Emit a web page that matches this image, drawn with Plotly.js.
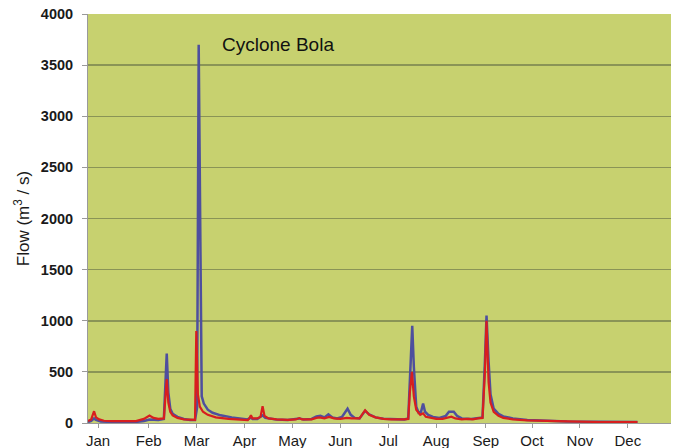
<!DOCTYPE html>
<html>
<head>
<meta charset="utf-8">
<script src="https://cdn.plot.ly/plotly-3.0.1.min.js"></script>
<style>html,body{margin:0;padding:0;background:#fff;}#chart{width:683px;height:448px;}</style>
</head>
<body>
<div id="chart"></div>
<script>
// Day of year (1 Jan = 0) and flow (m3/s)
const blueDays = [0,2,3.8,5,8,15,30,35,38.5,41,44,47.5,48.5,49.3,50.3,51.5,53,56,60,64,67,68.3,69.3,70.5,71.2,72.5,75,78,83,90,96,100,102,103,106,109.3,111,118,125,132.3,135,140,143,145.5,148,150.5,153,156,159,162.5,164.5,167,170,173.5,176,180,185,190,198,200.5,201.8,203,204,205.5,207,208.5,209.8,211,213,216,220,224,226,229,231,234,240,244,247,248.5,249.5,250.8,252,254,257,260,266,275,285,300,320,344];
const blueFlow = [10,20,45,30,15,10,10,20,35,30,30,40,400,680,300,140,90,60,40,30,30,150,3700,900,260,190,130,100,75,55,40,35,55,40,40,75,50,35,30,45,35,40,65,70,55,85,55,45,60,140,80,50,45,120,85,55,42,38,35,45,600,950,550,160,100,110,190,110,80,60,50,70,110,110,70,45,40,45,55,600,1050,600,280,140,90,65,45,30,22,15,12,10];

const redDays = [0,2,3.8,5,7,10,15,22,30,35,38.5,41,44,47.5,48.5,49.3,50.3,51.5,53,56,60,64,67,67.8,68.8,70,72,75,80,88,95,100,101,102,103,106,108,109.3,110.5,113,118,125,130,132.3,134,140,143,145,148,151,154,158,162,165,170,173.5,176,180,185,190,198,200.5,201.5,202.8,204,205.5,208,209.8,211.5,214,218,222,225,227.5,230,234,238,241,244,247,248.5,249.5,250.8,252,254,257,260,266,275,285,300,320,344];
const redFlow = [20,35,115,55,35,22,18,15,18,40,72,50,40,45,250,430,200,110,75,50,35,28,30,900,280,160,110,80,55,40,30,28,45,75,45,45,60,165,70,45,35,30,35,48,35,35,50,55,45,60,45,40,50,45,45,125,80,55,40,35,35,40,300,500,260,130,80,95,60,50,40,40,55,62,45,35,40,35,45,50,500,1000,400,200,110,70,50,35,25,20,15,10,8];

const monthLabels = ['Jan','Feb','Mar','Apr','May','Jun','Jul','Aug','Sep','Oct','Nov','Dec'];
const monthTickDays = [6.3,38,68,98,128,158,188,218,249,278,308,338];
const yTicks = [0,500,1000,1500,2000,2500,3000,3500,4000];

const font = 'Arial, "Liberation Sans", sans-serif';

const data = [
  {x: blueDays, y: blueFlow, type: 'scatter', mode: 'lines',
   line: {color: '#4E4F9E', width: 2.5}, hoverinfo: 'skip', showlegend: false},
  {x: redDays, y: redFlow, type: 'scatter', mode: 'lines',
   line: {color: '#D81E1E', width: 2.2}, hoverinfo: 'skip', showlegend: false}
];

const layout = {
  width: 683, height: 448,
  margin: {l: 88, r: 12, t: 14, b: 25},
  paper_bgcolor: '#FFFFFF',
  plot_bgcolor: '#C7D16F',
  showlegend: false,
  xaxis: {
    range: [0, 365], fixedrange: true,
    tickvals: monthTickDays, ticktext: monthLabels,
    ticks: 'outside', ticklen: 4, tickcolor: '#9A9A9A',
    showgrid: false, zeroline: false,
    showline: true, linecolor: '#9A9A9A', linewidth: 1,
    tickfont: {family: font, size: 15, color: '#1A1A1A'}
  },
  yaxis: {
    range: [0, 4000], fixedrange: true,
    tickvals: yTicks,
    ticks: 'outside', ticklen: 5, tickcolor: '#9A9A9A',
    ticklabelstandoff: 6,
    showgrid: true, gridcolor: '#8A9456', gridwidth: 1.5,
    zeroline: false,
    showline: true, linecolor: '#9A9A9A', linewidth: 1,
    tickfont: {family: font, size: 14.5, color: '#1A1A1A', weight: 'bold'},
    title: {text: 'Flow (m<sup>3</sup> / s)', font: {family: font, size: 17, color: '#1A1A1A'}, standoff: 6}
  },
  annotations: [{
    xref: 'x', yref: 'y', x: 82.5, y: 3700, xanchor: 'left', yanchor: 'middle',
    text: 'Cyclone Bola', showarrow: false,
    font: {family: font, size: 19, color: '#111111'}
  }]
};

Plotly.newPlot('chart', data, layout, {staticPlot: true, displayModeBar: false});
</script>
</body>
</html>
